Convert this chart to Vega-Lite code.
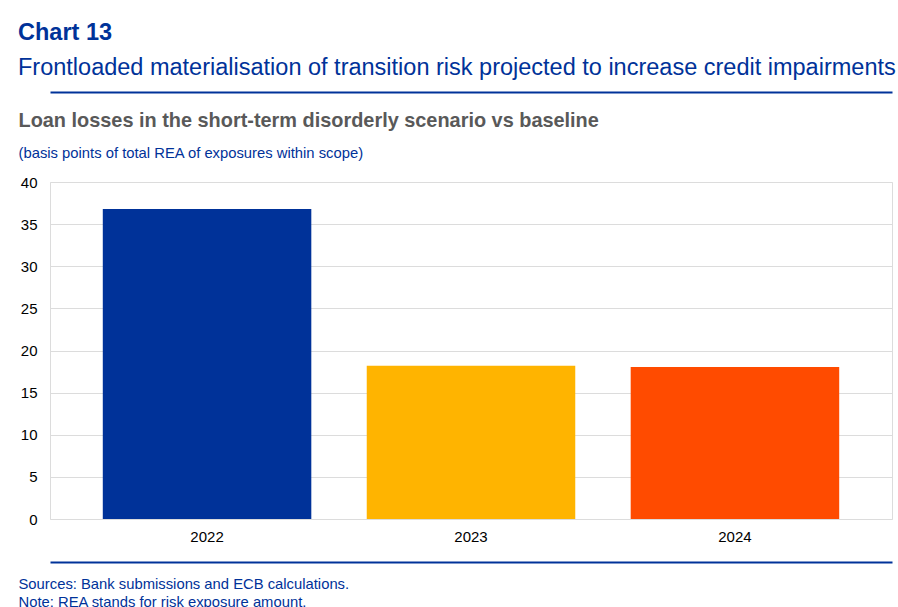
{
  "$schema": "https://vega.github.io/schema/vega-lite/v6.json",
  "width": 842,
  "height": 337,
  "autosize": {"type": "none"},
  "padding": {"left": 50, "top": 182, "right": 6, "bottom": 88},
  "background": "white",
  "title": {
    "text": "Chart 13",
    "subtitle": "Frontloaded materialisation of transition risk projected to increase credit impairments",
    "anchor": "start",
    "frame": "group",
    "dx": -32,
    "dy": -3,
    "font": "Liberation Sans",
    "fontSize": 23.5,
    "fontWeight": "bold",
    "color": "#003299",
    "subtitleFont": "Liberation Sans",
    "subtitleFontSize": 23.5,
    "subtitleColor": "#003299",
    "subtitlePadding": 11,
    "offset": 10
  },
  "data": {
    "values": [
      {"year": "2022", "value": 36.8},
      {"year": "2023", "value": 18.2},
      {"year": "2024", "value": 18.05}
    ]
  },
  "config": {
    "view": {"stroke": "#dcdcdc", "strokeWidth": 1},
    "font": "Liberation Sans"
  },
  "resolve": {"axis": {"x": "independent"}},
  "layer": [
    {
      "mark": {"type": "bar"},
      "encoding": {
        "x": {
          "field": "year",
          "type": "nominal",
          "scale": {"paddingInner": 0.21, "paddingOuter": 0.2},
          "axis": {
            "orient": "bottom",
            "title": null,
            "labelAngle": 0,
            "labelFontSize": 15,
            "labelColor": "#000000",
            "labelPadding": 10,
            "ticks": false,
            "domain": false
          }
        },
        "y": {
          "field": "value",
          "type": "quantitative",
          "scale": {"domain": [0, 40]},
          "axis": {
            "values": [0, 5, 10, 15, 20, 25, 30, 35, 40],
            "title": "(basis points of total REA of exposures within scope)",
            "titleAngle": 0,
            "titleAlign": "left",
            "titleBaseline": "alphabetic",
            "titleX": -32,
            "titleY": -25,
            "titleFontSize": 14.8,
            "titleFontWeight": "normal",
            "titleColor": "#003299",
            "labelFontSize": 15,
            "labelColor": "#000000",
            "labelPadding": 13,
            "ticks": false,
            "domain": false,
            "gridColor": "#dcdcdc",
            "gridWidth": 1
          }
        },
        "color": {
          "field": "year",
          "type": "nominal",
          "scale": {"domain": ["2022", "2023", "2024"], "range": ["#003299", "#ffb400", "#ff4b00"]},
          "legend": null
        }
      }
    },
    {
      "mark": {"type": "bar", "opacity": 0},
      "encoding": {
        "x": {
          "field": "year",
          "type": "nominal",
          "axis": {
            "orient": "top",
            "offset": 90,
            "labels": false,
            "ticks": false,
            "domain": true,
            "domainColor": "#003299",
            "domainWidth": 2,
            "grid": false,
            "title": "Loan losses in the short-term disorderly scenario vs baseline",
            "titleAnchor": "start",
            "titleAlign": "left",
            "titleBaseline": "alphabetic",
            "titleX": -32,
            "titleY": 34,
            "titleFontSize": 19.9,
            "titleFontWeight": "bold",
            "titleColor": "#595959"
          }
        },
        "y": {"field": "value", "type": "quantitative"}
      }
    },
    {
      "mark": {"type": "bar", "opacity": 0},
      "encoding": {
        "x": {
          "field": "year",
          "type": "nominal",
          "axis": {
            "orient": "bottom",
            "offset": 43,
            "labels": false,
            "ticks": false,
            "domain": true,
            "domainColor": "#003299",
            "domainWidth": 2,
            "grid": false,
            "title": ["Sources: Bank submissions and ECB calculations.", "Note: REA stands for risk exposure amount."],
            "titleAnchor": "start",
            "titleAlign": "left",
            "titleBaseline": "alphabetic",
            "titleX": -32,
            "titleY": 26,
            "titleFontSize": 14.8,
            "titleFontWeight": "normal",
            "titleLineHeight": 18,
            "titleColor": "#003299"
          }
        },
        "y": {"field": "value", "type": "quantitative"}
      }
    }
  ]
}
